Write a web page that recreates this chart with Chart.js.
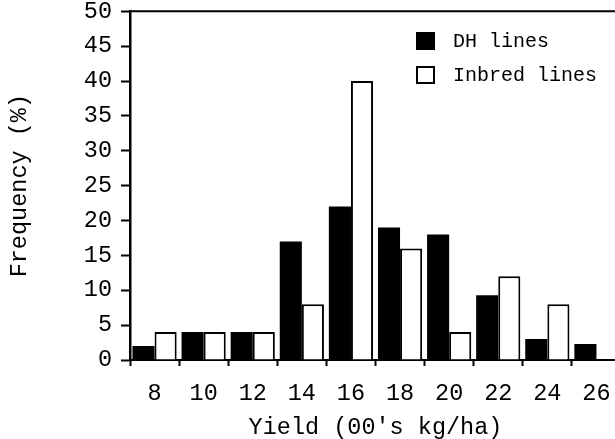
<!DOCTYPE html>
<html>
<head>
<meta charset="utf-8">
<script src="https://cdn.jsdelivr.net/npm/chart.js@4"></script>
<style>
  html, body { margin: 0; padding: 0; background: #fff; overflow: hidden; }
  #wrap { width: 625px; height: 439px; }
</style>
</head>
<body>
<div id="wrap"><canvas id="chart" width="625" height="439"></canvas></div>
<script>
// yield classes (00's kg/ha)
var yieldClasses = ['8', '10', '12', '14', '16', '18', '20', '22', '24', '26']
// frequency (%)
var dhLines = [2, 4, 4, 17, 22, 19, 18, 9.3, 3, 2.3]
var inbredLines = [4, 4, 4, 8, 40, 16, 4, 12, 8, 0]

var font = "'Liberation Mono', 'Courier New', monospace"

// top frame line + legend inside the plot
var frameAndLegend = {
    id: 'frameAndLegend',
    afterDraw: function (chart) {
        var ctx = chart.ctx
        var a = chart.chartArea
        ctx.save()
        ctx.strokeStyle = '#000'
        ctx.lineWidth = 2
        ctx.beginPath()
        ctx.moveTo(a.left, a.top)
        ctx.lineTo(a.right, a.top)
        ctx.stroke()

        ctx.font = '20px ' + font
        ctx.textBaseline = 'middle'
        ctx.fillStyle = '#000'
        var items = chart.data.datasets
        for (var i = 0; i < items.length; i++) {
            var y = 41 + i * 34
            if (items[i].backgroundColor === '#000') {
                ctx.fillRect(416, y - 9, 19, 18)
            } else {
                ctx.lineWidth = 2
                ctx.strokeRect(417, y - 8, 17, 16)
            }
            ctx.fillText(items[i].label, 453, y + 1)
        }
        ctx.restore()
    }
}

var ctx = document.getElementById('chart').getContext('2d')
var myChart = new Chart(ctx, {
    type: 'bar',
    data: {
        labels: yieldClasses,
        datasets: [
            {
                label: 'DH lines',
                data: dhLines,
                backgroundColor: '#000',
                borderColor: '#000',
                borderWidth: 0
            },
            {
                label: 'Inbred lines',
                data: inbredLines,
                backgroundColor: '#fff',
                borderColor: '#000',
                borderWidth: 2
            }
        ]
    },
    options: {
        responsive: false,
        animation: false,
        layout: { padding: { top: 3, left: 0, right: 4, bottom: 0 } },
        plugins: { legend: { display: false }, tooltip: { enabled: false } },
        datasets: { bar: { categoryPercentage: 0.9, barPercentage: 1 } },
        scales: {
            x: {
                grid: {
                    offset: true,
                    drawOnChartArea: false,
                    color: '#000',
                    tickLength: 6,
                    tickWidth: 2
                },
                border: { color: '#000', width: 2 },
                ticks: { color: '#000', font: { family: font, size: 23.5 }, padding: 14, maxRotation: 0 },
                title: {
                    display: true,
                    text: "Yield (00's kg/ha)",
                    color: '#000',
                    font: { family: font, size: 23.5 },
                    padding: { top: 4, bottom: -3 }
                },
                afterFit: function (scale) { scale.height = 79 }
            },
            y: {
                min: 0,
                max: 50,
                ticks: { stepSize: 5, color: '#000', font: { family: font, size: 23.5, lineHeight: 0.2 }, padding: 9 },
                grid: {
                    drawOnChartArea: false,
                    color: '#000',
                    tickLength: 9,
                    tickWidth: 2
                },
                border: { color: '#000', width: 2.5 },
                title: {
                    display: true,
                    text: 'Frequency (%)',
                    color: '#000',
                    font: { family: font, size: 23.5 },
                    padding: { top: 6, bottom: 0 }
                },
                afterFit: function (scale) { scale.width = 130 }
            }
        }
    },
    plugins: [frameAndLegend]
})
</script>
</body>
</html>
